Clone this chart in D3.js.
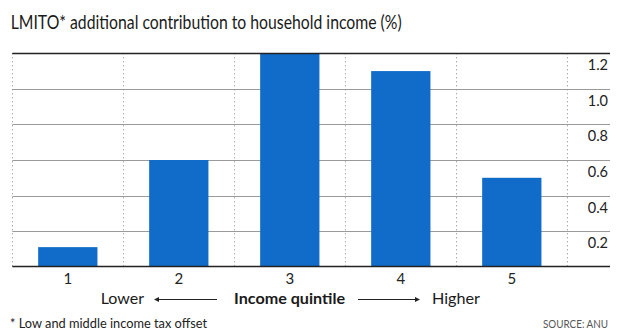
<!DOCTYPE html>
<html><head><meta charset="utf-8">
<script src="https://cdn.jsdelivr.net/npm/d3@7"></script>
<style>
html,body{margin:0;padding:0;background:#fff;}
svg{display:block;font-family:Lato,"Open Sans",sans-serif;}
</style></head>
<body>
<script>
const categories = ["1","2","3","4","5"];
const values = [0.11, 0.60, 1.2, 1.10, 0.50];
const yTicks = [0.2, 0.4, 0.6, 0.8, 1.0, 1.2];
const yTickLabels = ["0.2","0.4","0.6","0.8","1.0","1.2"];
const title = "LMITO* additional contribution to household income (%)";
const axisTitle = "Income quintile";
const lowLabel = "Lower", highLabel = "Higher";
const footnote = "* Low and middle income tax offset";
const source = "SOURCE: ANU";

const W = 620, H = 336;
const svg = d3.select("body").append("svg").attr("width", W).attr("height", H);

const left = 12.3, right = 567.3, gridRight = 610;
const y = d3.scaleLinear().domain([0, 1.2]).range([266.7, 53.3]);
const x = d3.scaleBand().domain(categories).range([left, right]).paddingInner(0.466).paddingOuter(0.233);
const xCell = d3.scaleBand().domain(categories).range([left, right]).padding(0);

function fitText(sel, w) { sel.attr("textLength", w).attr("lengthAdjust", "spacingAndGlyphs"); }

// title
svg.append("text").attr("x", 10.7).attr("y", 29).attr("font-size", 20).attr("fill", "#1a1a1a")
  .text(title).call(fitText, 391);

// horizontal gridlines
svg.append("g").selectAll("line").data(yTicks.slice(0, -1)).join("line")
  .attr("x1", left).attr("x2", gridRight)
  .attr("y1", d => Math.round(y(d)) + 0.5).attr("y2", d => Math.round(y(d)) + 0.5)
  .attr("stroke", "#9a9a9a").attr("stroke-width", 1);

// vertical dotted separators
const sepX = categories.map(c => xCell(c)).concat([right]);
svg.append("g").selectAll("line").data(sepX).join("line")
  .attr("x1", d => Math.round(d) + 0.5).attr("x2", d => Math.round(d) + 0.5)
  .attr("y1", y(1.2)).attr("y2", y(0))
  .attr("stroke", "#888").attr("stroke-width", 1).attr("stroke-dasharray", "1,3");

// bars
svg.append("g").selectAll("rect").data(values).join("rect")
  .attr("x", (d, i) => x(categories[i])).attr("width", x.bandwidth())
  .attr("y", d => y(d)).attr("height", d => y(0) - y(d))
  .attr("fill", "#106cc8");

// top line and baseline
svg.append("line").attr("x1", left).attr("x2", gridRight).attr("y1", 53.5).attr("y2", 53.5)
  .attr("stroke", "#222").attr("stroke-width", 1.3);
svg.append("line").attr("x1", left).attr("x2", gridRight).attr("y1", 266.5).attr("y2", 266.5)
  .attr("stroke", "#222").attr("stroke-width", 1.5);

// y tick labels
svg.append("g").selectAll("text").data(yTicks).join("text")
  .attr("x", 608).attr("y", d => y(d) + 17)
  .attr("text-anchor", "end").attr("font-size", 14.5).attr("fill", "#222")
  .text((d, i) => yTickLabels[i]);

// x tick labels
svg.append("g").selectAll("text").data(categories).join("text")
  .attr("x", d => x(d) + x.bandwidth() / 2).attr("y", 283.5)
  .attr("text-anchor", "middle").attr("font-size", 15).attr("fill", "#222")
  .text(d => d);

// axis title row
svg.append("text").attr("x", 100.7).attr("y", 304).attr("font-size", 16).attr("fill", "#1a1a1a")
  .text(lowLabel).call(fitText, 43.3);
svg.append("text").attr("x", 234).attr("y", 304).attr("font-size", 16).attr("font-weight", "bold").attr("fill", "#1a1a1a")
  .text(axisTitle).call(fitText, 111);
svg.append("text").attr("x", 432).attr("y", 304).attr("font-size", 16).attr("fill", "#1a1a1a")
  .text(highLabel).call(fitText, 48);

// arrows
const ay = 299.5;
svg.append("line").attr("x1", 156).attr("x2", 217).attr("y1", ay).attr("y2", ay).attr("stroke", "#222").attr("stroke-width", 1);
svg.append("path").attr("d", `M154,${ay} L159,${ay-2.5} L159,${ay+2.5} Z`).attr("fill", "#222");
svg.append("line").attr("x1", 358).attr("x2", 418).attr("y1", ay).attr("y2", ay).attr("stroke", "#222").attr("stroke-width", 1);
svg.append("path").attr("d", `M420,${ay} L415,${ay-2.5} L415,${ay+2.5} Z`).attr("fill", "#222");

// footnote and source
svg.append("text").attr("x", 10).attr("y", 327.5).attr("font-size", 13).attr("fill", "#222")
  .text(footnote).call(fitText, 197);
svg.append("text").attr("x", 608).attr("y", 328).attr("text-anchor", "end").attr("font-size", 11.5).attr("fill", "#555")
  .text(source).call(fitText, 65);
</script>
</body></html>
